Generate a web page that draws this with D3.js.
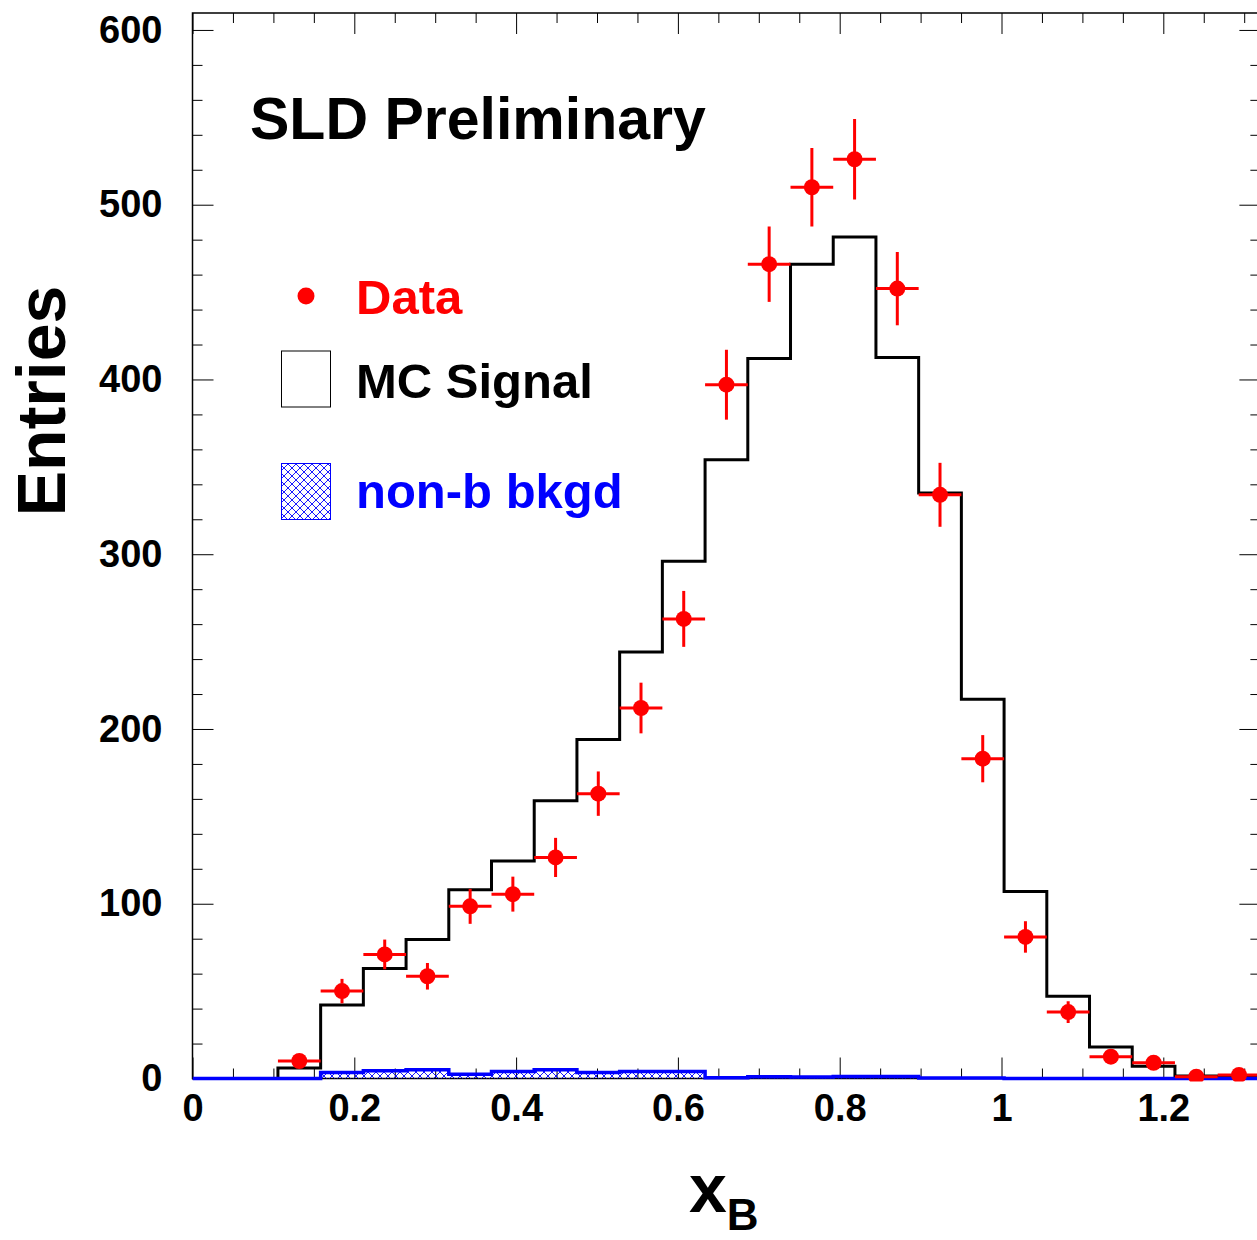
<!DOCTYPE html>
<html>
<head>
<meta charset="utf-8">
<script src="https://cdn.jsdelivr.net/npm/d3@7"></script>
<style>
  html, body { margin: 0; padding: 0; background: #fff; }
  svg { display: block; }
  text { font-family: "Liberation Sans", Arial, Helvetica, sans-serif; font-weight: bold; }
</style>
</head>
<body>
<svg id="chart" width="1257" height="1240"></svg>
<script>
// Histogram bin edges in x_B (25 bins)
const binEdges = [0.0000, 0.0528, 0.1056, 0.1584, 0.2112, 0.2640, 0.3168, 0.3696, 0.4224,
  0.4752, 0.5280, 0.5808, 0.6336, 0.6864, 0.7392, 0.7920, 0.8448, 0.8976, 0.9504,
  1.0032, 1.0560, 1.1088, 1.1616, 1.2144, 1.2672, 1.3200];

// Data entries per bin and their errors
const dataEntries = [0, 0, 10, 50, 71, 58.5, 98.5, 105.5, 126.5, 163, 212, 263, 397, 466,
  510, 526, 452, 334, 183, 81, 38, 12.5, 9, 1, 2];
const dataErrors = [0, 0, 3.2, 7, 8.5, 7.6, 10, 10, 11.2, 12.7, 14.5, 16, 20, 21.6,
  22.5, 23, 21, 18.3, 13.5, 9, 6.2, 3.5, 3, 1, 1.4];

// Monte Carlo signal histogram
const mcSignal = [0, 0, 6, 42, 63, 79.5, 108, 124.5, 159, 194, 244, 296, 354, 412,
  466, 481.5, 412.5, 335, 217, 107, 47, 18, 7, 1.5, 1];

// non-b background histogram
const nonBBkg = [0, 0, 0, 3.5, 4.5, 5, 2.5, 4, 5, 3.5, 4, 4, 0.5, 1, 0.8, 1.2, 1.2,
  0.3, 0.3, 0, 0, 0, 0, 0, 0];

// Axis ticks
const xMajorTicks = [0, 0.2, 0.4, 0.6, 0.8, 1, 1.2];
const xTickLabels = ["0", "0.2", "0.4", "0.6", "0.8", "1", "1.2"];
const xMinorTicks = [0.05, 0.1, 0.15, 0.25, 0.3, 0.35, 0.45, 0.5, 0.55, 0.65, 0.7, 0.75,
  0.85, 0.9, 0.95, 1.05, 1.1, 1.15, 1.25, 1.3];
const yMajorTicks = [0, 100, 200, 300, 400, 500, 600];
const yMinorTicks = [20, 40, 60, 80, 120, 140, 160, 180, 220, 240, 260, 280, 320, 340,
  360, 380, 420, 440, 460, 480, 520, 540, 560, 580];

const svg = d3.select("#chart");
const plotLeft = 192.5, plotBottom = 1078.5, plotTop = 13;
const x = d3.scaleLinear().domain([0, 1.32]).range([plotLeft, plotLeft + 1.32 * 809]);
const y = d3.scaleLinear().domain([0, 609.7]).range([plotBottom, plotTop]);
const plotRight = x(1.32);

svg.append("rect").attr("width", 1257).attr("height", 1240).attr("fill", "#fff");

// Crosshatch pattern for the background
const defs = svg.append("defs");
const pat = defs.append("pattern").attr("id", "xhatch")
  .attr("patternUnits", "userSpaceOnUse").attr("width", 8).attr("height", 8);
pat.append("path").attr("d", "M0,0 L8,8 M0,8 L8,0 M-2,6 L2,10 M6,-2 L10,2 M-2,2 L2,-2 M6,10 L10,6")
  .attr("stroke", "#0000ff").attr("stroke-width", 0.9).attr("fill", "none");

// Clip lets the baseline strokes overlap the lower frame edge
defs.append("clipPath").attr("id", "plotclip").append("rect")
  .attr("x", plotLeft).attr("y", plotTop)
  .attr("width", plotRight - plotLeft).attr("height", plotBottom - plotTop + 3);

// Axes (ticks point inward)
function styleAxis(g) {
  g.select(".domain").remove();
  g.selectAll(".tick line").attr("stroke", "#000").attr("stroke-width", 1);
  g.selectAll(".tick text").attr("font-size", 38).attr("fill", "#000")
    .style("font-family", "'Liberation Sans', Arial, sans-serif").style("font-weight", "bold");
}

svg.append("g").attr("transform", `translate(0,${plotBottom})`)
  .call(d3.axisBottom(x).tickValues(xMajorTicks).tickSize(-21).tickPadding(16)
    .tickFormat((d, i) => xTickLabels[i]))
  .call(styleAxis);
svg.append("g").attr("transform", `translate(0,${plotBottom})`)
  .call(d3.axisBottom(x).tickValues(xMinorTicks).tickSize(-10).tickFormat(""))
  .call(styleAxis);
svg.append("g").attr("transform", `translate(0,${plotTop})`)
  .call(d3.axisTop(x).tickValues(xMajorTicks).tickSize(-21).tickFormat(""))
  .call(styleAxis);
svg.append("g").attr("transform", `translate(0,${plotTop})`)
  .call(d3.axisTop(x).tickValues(xMinorTicks).tickSize(-10).tickFormat(""))
  .call(styleAxis);

svg.append("g").attr("transform", `translate(${plotLeft},0)`)
  .call(d3.axisLeft(y).tickValues(yMajorTicks).tickSize(-21).tickPadding(30))
  .call(styleAxis);
svg.append("g").attr("transform", `translate(${plotLeft},0)`)
  .call(d3.axisLeft(y).tickValues(yMinorTicks).tickSize(-10).tickFormat(""))
  .call(styleAxis);
svg.append("g").attr("transform", `translate(${plotRight},0)`)
  .call(d3.axisRight(y).tickValues(yMajorTicks).tickSize(-21).tickFormat(""))
  .call(styleAxis);
svg.append("g").attr("transform", `translate(${plotRight},0)`)
  .call(d3.axisRight(y).tickValues(yMinorTicks).tickSize(-10).tickFormat(""))
  .call(styleAxis);

// Frame
svg.append("rect").attr("x", plotLeft).attr("y", plotTop)
  .attr("width", plotRight - plotLeft).attr("height", plotBottom - plotTop)
  .attr("fill", "none").attr("stroke", "#000").attr("stroke-width", 1.5);

const plot = svg.append("g").attr("clip-path", "url(#plotclip)");

// Step points: one per bin edge, last edge repeats the last bin value
const stepPts = vals => binEdges.map((e, i) => [e, vals[Math.min(i, vals.length - 1)]]);

const stepLine = d3.line().x(d => x(d[0])).y(d => y(d[1])).curve(d3.curveStepAfter);
const stepArea = d3.area().x(d => x(d[0])).y0(y(0)).y1(d => y(d[1])).curve(d3.curveStepAfter);

// MC signal outline
plot.append("path").attr("d", stepLine(stepPts(mcSignal)))
  .attr("fill", "none").attr("stroke", "#000").attr("stroke-width", 3);

// non-b background: hatched fill and outline
plot.append("path").attr("d", stepArea(stepPts(nonBBkg))).attr("fill", "url(#xhatch)");
plot.append("path").attr("d", stepLine(stepPts(nonBBkg)))
  .attr("fill", "none").attr("stroke", "#0000ff").attr("stroke-width", 3.5);

// Data points with error bars
const pts = dataEntries.map((v, i) => ({
  lo: binEdges[i], hi: binEdges[i + 1], c: (binEdges[i] + binEdges[i + 1]) / 2, v, e: dataErrors[i]
})).filter(d => d.v > 0);

const dg = plot.append("g").attr("class", "data");
dg.selectAll("line.h").data(pts).join("line").attr("class", "h")
  .attr("x1", d => x(d.lo)).attr("x2", d => x(d.hi))
  .attr("y1", d => y(d.v)).attr("y2", d => y(d.v))
  .attr("stroke", "#ff0000").attr("stroke-width", 3);
dg.selectAll("line.v").data(pts).join("line").attr("class", "v")
  .attr("x1", d => x(d.c)).attr("x2", d => x(d.c))
  .attr("y1", d => y(d.v - d.e)).attr("y2", d => y(d.v + d.e))
  .attr("stroke", "#ff0000").attr("stroke-width", 3);
dg.selectAll("circle").data(pts).join("circle")
  .attr("cx", d => x(d.c)).attr("cy", d => y(d.v)).attr("r", 8).attr("fill", "#ff0000");

// Title text
svg.append("text").attr("x", 250).attr("y", 139).attr("font-size", 59).attr("fill", "#000")
  .text("SLD Preliminary");

// Legend
const lg = svg.append("g");
lg.append("circle").attr("cx", 306).attr("cy", 296).attr("r", 8.5).attr("fill", "#ff0000");
lg.append("text").attr("x", 356).attr("y", 314).attr("font-size", 49).attr("fill", "#ff0000").text("Data");
lg.append("rect").attr("x", 281.5).attr("y", 351).attr("width", 49).attr("height", 56)
  .attr("fill", "#fff").attr("stroke", "#000").attr("stroke-width", 1);
lg.append("text").attr("x", 356).attr("y", 398).attr("font-size", 49).attr("fill", "#000").text("MC Signal");
lg.append("rect").attr("x", 281.5).attr("y", 463.5).attr("width", 49).attr("height", 56)
  .attr("fill", "url(#xhatch)").attr("stroke", "#0000ff").attr("stroke-width", 1);
lg.append("text").attr("x", 356).attr("y", 508).attr("font-size", 49).attr("fill", "#0000ff").text("non-b bkgd");

// Axis titles
svg.append("text").attr("transform", "translate(65,401) rotate(-90)")
  .attr("text-anchor", "middle").attr("font-size", 68).attr("fill", "#000").text("Entries");
const xt = svg.append("text").attr("x", 689).attr("y", 1212).attr("font-size", 68).attr("fill", "#000");
xt.append("tspan").text("x");
xt.append("tspan").attr("font-size", 44).attr("dy", 18).text("B");
</script>
</body>
</html>
